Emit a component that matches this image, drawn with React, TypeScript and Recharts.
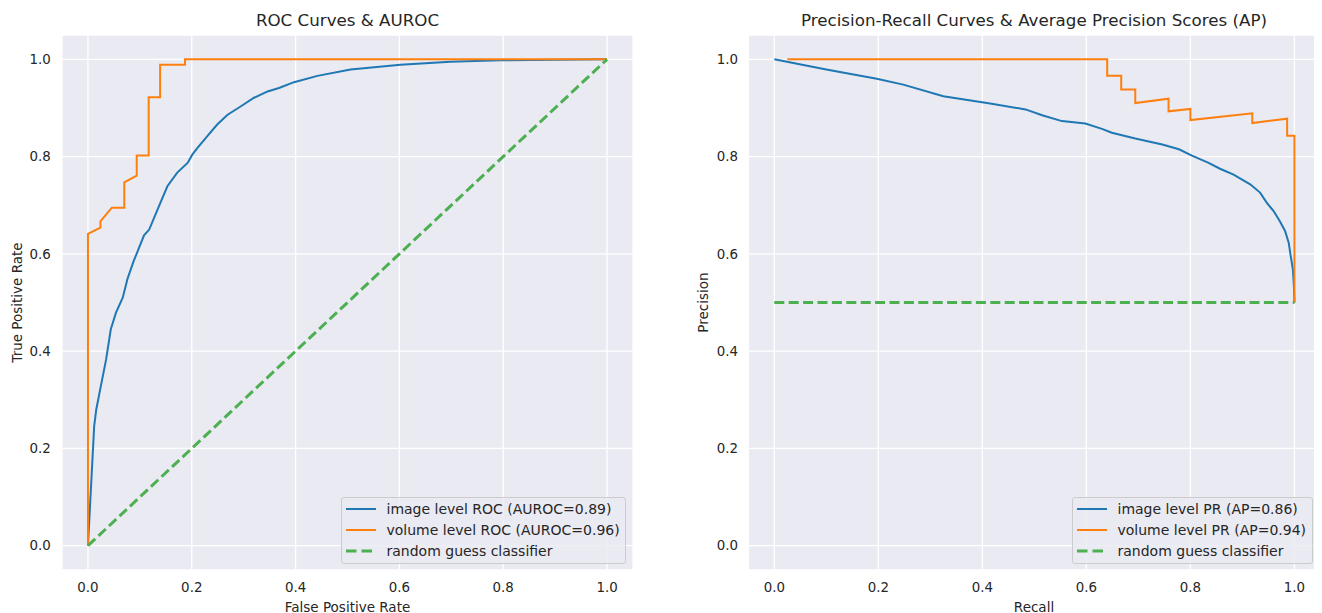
import React from 'react';
import { LineChart, Line, XAxis, YAxis, CartesianGrid, Legend } from 'recharts';

// ---------- data ----------
const rocImageFpr = [0, 0.012, 0.016, 0.025, 0.035, 0.044, 0.054, 0.067, 0.076, 0.088, 0.096, 0.108, 0.118, 0.134, 0.153, 0.172, 0.192, 0.201, 0.211, 0.230, 0.249, 0.269, 0.294, 0.320, 0.346, 0.368, 0.397, 0.442, 0.506, 0.602, 0.698, 0.794, 0.9, 1.0];
const rocImageTpr = [0, 0.246, 0.28, 0.329, 0.383, 0.445, 0.479, 0.51, 0.548, 0.585, 0.606, 0.638, 0.650, 0.691, 0.739, 0.767, 0.787, 0.804, 0.818, 0.842, 0.866, 0.886, 0.903, 0.921, 0.934, 0.941, 0.953, 0.966, 0.979, 0.989, 0.995, 0.998, 0.999, 1.0];

const rocVolumeFpr = [0, 0, 0.024, 0.024, 0.046, 0.070, 0.070, 0.094, 0.094, 0.117, 0.117, 0.139, 0.139, 0.187, 0.187, 1.0];
const rocVolumeTpr = [0, 0.641, 0.654, 0.667, 0.695, 0.695, 0.747, 0.761, 0.802, 0.802, 0.922, 0.922, 0.989, 0.989, 1.0, 1.0];

const rocRandomFpr = [0, 1];
const rocRandomTpr = [0, 1];

const prImageRecall = [0, 0.1, 0.197, 0.248, 0.325, 0.415, 0.483, 0.515, 0.553, 0.598, 0.630, 0.649, 0.694, 0.746, 0.778, 0.803, 0.835, 0.857, 0.883, 0.915, 0.934, 0.947, 0.960, 0.972, 0.982, 0.989, 0.993, 0.997, 0.999, 1.0];
const prImagePrecision = [1.0, 0.979, 0.960, 0.948, 0.924, 0.909, 0.897, 0.885, 0.873, 0.868, 0.857, 0.849, 0.837, 0.825, 0.815, 0.802, 0.787, 0.775, 0.763, 0.743, 0.726, 0.705, 0.688, 0.667, 0.647, 0.623, 0.595, 0.568, 0.534, 0.5];

const prVolumeRecall = [0.025, 0.64, 0.64, 0.667, 0.667, 0.694, 0.694, 0.758, 0.758, 0.80, 0.80, 0.919, 0.919, 0.986, 0.986, 1.0, 1.0];
const prVolumePrecision = [1.0, 1.0, 0.966, 0.966, 0.938, 0.938, 0.910, 0.919, 0.893, 0.898, 0.875, 0.889, 0.869, 0.878, 0.843, 0.843, 0.5];

const prRandomRecall = [0, 1];
const prRandomPrecision = [0.5, 0.5];

const axisTicks = [0, 0.2, 0.4, 0.6, 0.8, 1.0];

const rocLegendLabels = ['image level ROC (AUROC=0.89)', 'volume level ROC (AUROC=0.96)', 'random guess classifier'];
const prLegendLabels = ['image level PR (AP=0.86)', 'volume level PR (AP=0.94)', 'random guess classifier'];

const rocTitle = 'ROC Curves & AUROC';
const prTitle = 'Precision-Recall Curves & Average Precision Scores (AP)';
const rocXLabel = 'False Positive Rate';
const rocYLabel = 'True Positive Rate';
const prXLabel = 'Recall';
const prYLabel = 'Precision';

// ---------- styling ----------
const FONT = '"DejaVu Sans", Verdana, sans-serif';
const TEXT = '#262626';
const BLUE = '#1f77b4';
const ORANGE = '#ff7f0e';
const GREEN = '#4caf50';
const DASH = '10 4.4';

const zip = (xs: number[], ys: number[]) => xs.map((x, i) => ({ x, y: ys[i] }));

const seriesStyles = [
  { color: BLUE, width: 2, dash: undefined as string | undefined },
  { color: ORANGE, width: 2, dash: undefined as string | undefined },
  { color: GREEN, width: 3, dash: DASH },
];

function LegendBox({ labels }: { labels: string[] }) {
  return (
    <div
      style={{
        boxSizing: 'border-box',
        width: '100%',
        height: '100%',
        background: 'rgba(234,234,242,0.8)',
        border: '1px solid #cccccc',
        borderRadius: 3,
        paddingTop: 0.7,
        fontFamily: FONT,
        fontSize: 14,
        color: TEXT,
      }}
    >
      {labels.map((label, i) => (
        <div key={label} style={{ height: 20.7, display: 'flex', alignItems: 'center', whiteSpace: 'nowrap' }}>
          <svg width={41} height={6} style={{ marginLeft: 3.5, flex: 'none' }}>
            <line
              x1={0}
              x2={30}
              y1={3}
              y2={3}
              stroke={seriesStyles[i].color}
              strokeWidth={seriesStyles[i].width}
              strokeDasharray={seriesStyles[i].dash ? '10.5 5' : undefined}
            />
          </svg>
          <span style={{ lineHeight: '20px' }}>{label}</span>
        </div>
      ))}
    </div>
  );
}

type PanelProps = {
  width: number;
  margin: { top: number; right: number; bottom: number; left: number };
  xDomain: [number, number];
  series: { x: number; y: number }[][];
  labels: string[];
  legendPos: { left: number; top: number; width: number; height: number };
  yTickMargin: number;
};

const Y_AXIS_W = 30;
const X_AXIS_H = 30;

function Panel({ width, margin, xDomain, series, labels, legendPos, yTickMargin }: PanelProps) {
  const tickStyle = { fill: TEXT, fontSize: 13.4, fontFamily: FONT };
  const m = { ...margin, left: margin.left - Y_AXIS_W, bottom: margin.bottom - X_AXIS_H };
  return (
    <LineChart width={width} height={613} margin={m}>
      <CartesianGrid fill="#EAEAF2" stroke="#FFFFFF" strokeWidth={1.3} />
      <XAxis
        type="number"
        dataKey="x"
        domain={xDomain}
        allowDataOverflow
        ticks={axisTicks}
        tickFormatter={(v: number) => v.toFixed(1)}
        axisLine={false}
        tickLine={false}
        tickSize={0}
        tickMargin={12.4}
        height={X_AXIS_H}
        tick={tickStyle}
        interval={0}
      />
      <YAxis
        type="number"
        dataKey="y"
        domain={[-0.05, 1.05]}
        allowDataOverflow
        ticks={axisTicks}
        tickFormatter={(v: number) => v.toFixed(1)}
        axisLine={false}
        tickLine={false}
        tickSize={0}
        tickMargin={yTickMargin}
        width={Y_AXIS_W}
        tick={tickStyle}
        interval={0}
      />
      {series.map((data, i) => (
        <Line
          key={i}
          data={data}
          dataKey="y"
          type="linear"
          stroke={seriesStyles[i].color}
          strokeWidth={seriesStyles[i].width}
          strokeDasharray={seriesStyles[i].dash}
          dot={false}
          activeDot={false}
          isAnimationActive={false}
        />
      ))}
      <Legend
        layout="vertical"
        align="center"
        verticalAlign="middle"
        wrapperStyle={{ ...legendPos, margin: 0, padding: 0 }}
        content={() => <LegendBox labels={labels} />}
      />
    </LineChart>
  );
}

export default function App() {
  const rocSeries = [zip(rocImageFpr, rocImageTpr), zip(rocVolumeFpr, rocVolumeTpr), zip(rocRandomFpr, rocRandomTpr)];
  const prSeries = [zip(prImageRecall, prImagePrecision), zip(prVolumeRecall, prVolumePrecision), zip(prRandomRecall, prRandomPrecision)];
  const textStyle = { fontFamily: FONT, fill: TEXT } as const;
  return (
    <div style={{ position: 'absolute', left: 0, top: 0, width: 1322, height: 613, background: '#ffffff', overflow: 'hidden' }}>
      <div style={{ position: 'absolute', left: 0, top: 0 }}>
        <Panel
          width={660}
          margin={{ top: 35, right: 27, bottom: 43, left: 62 }}
          xDomain={[-0.05, 1.05]}
          series={rocSeries}
          labels={rocLegendLabels}
          legendPos={{ left: 341, top: 497.3, width: 285, height: 67 }}
          yTickMargin={11.3}
        />
      </div>
      <div style={{ position: 'absolute', left: 660, top: 0 }}>
        <Panel
          width={662}
          margin={{ top: 35, right: 7.3, bottom: 43, left: 88.3 }}
          xDomain={[-0.05, 1.039]}
          series={prSeries}
          labels={prLegendLabels}
          legendPos={{ left: 412, top: 497.3, width: 241, height: 67 }}
          yTickMargin={10.3}
        />
      </div>
      <svg width={1322} height={613} style={{ position: 'absolute', left: 0, top: 0, pointerEvents: 'none' }}>
        <text x={347.5} y={26} textAnchor="middle" fontSize={16.7} {...textStyle}>{rocTitle}</text>
        <text x={1034} y={26} textAnchor="middle" fontSize={16.7} {...textStyle}>{prTitle}</text>
        <text x={347.5} y={611.5} textAnchor="middle" fontSize={13.5} {...textStyle}>{rocXLabel}</text>
        <text x={1034} y={611.5} textAnchor="middle" fontSize={13.5} {...textStyle}>{prXLabel}</text>
        <text transform="translate(22.3,302.5) rotate(-90)" textAnchor="middle" fontSize={13.5} {...textStyle}>{rocYLabel}</text>
        <text transform="translate(708.3,302.5) rotate(-90)" textAnchor="middle" fontSize={13.5} {...textStyle}>{prYLabel}</text>
      </svg>
    </div>
  );
}
